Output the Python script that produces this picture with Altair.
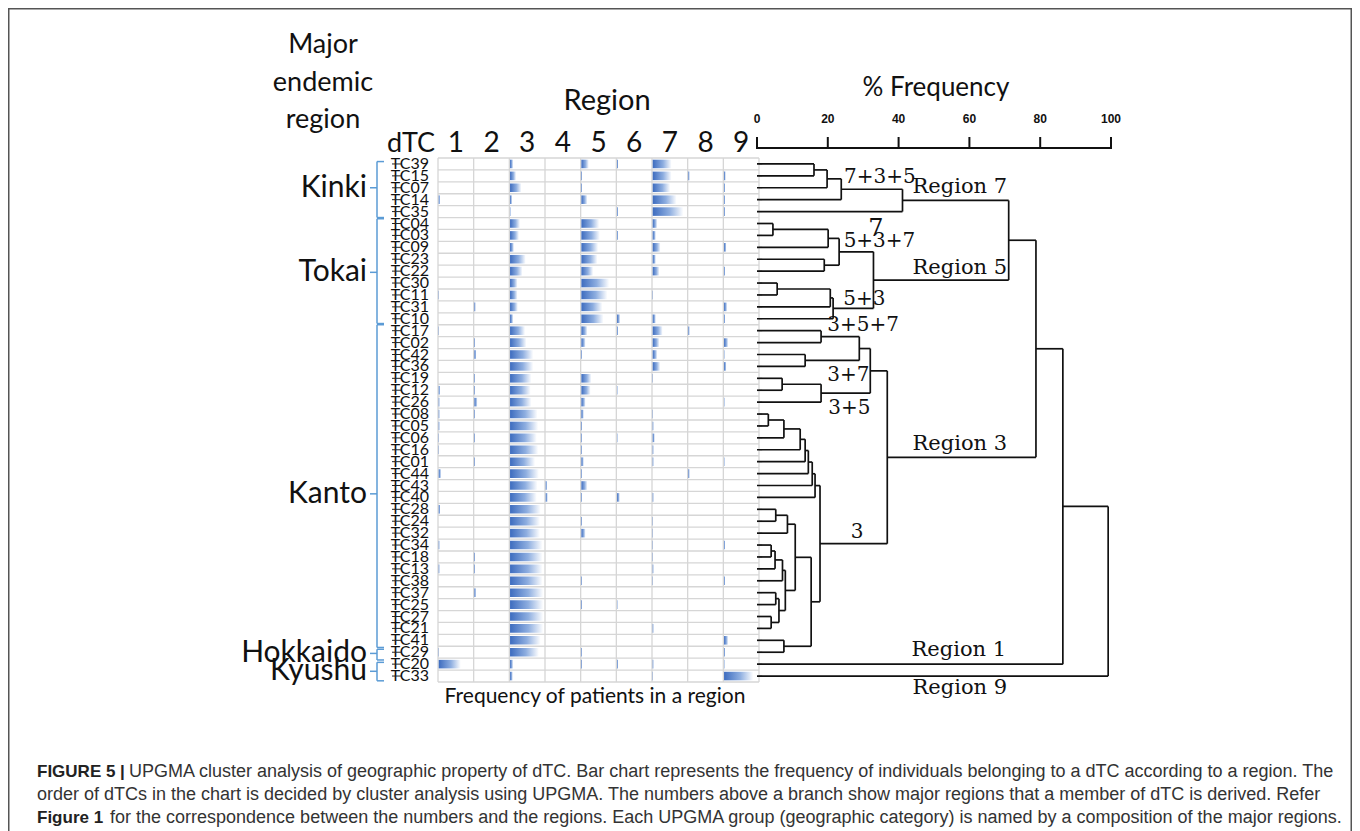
import altair as alt
import pandas as pd

# ---------------- data ----------------
dtc = ["TC39", "TC15", "TC07", "TC14", "TC35", "TC04", "TC03", "TC09", "TC23", "TC22",
       "TC30", "TC11", "TC31", "TC10", "TC17", "TC02", "TC42", "TC36", "TC19", "TC12",
       "TC26", "TC08", "TC05", "TC06", "TC16", "TC01", "TC44", "TC43", "TC40", "TC28",
       "TC24", "TC32", "TC34", "TC18", "TC13", "TC38", "TC37", "TC25", "TC27", "TC21",
       "TC41", "TC29", "TC20", "TC33"]

# frequency (% of patients of the dTC) in each region 1..9, same order as dtc
region1 = [0, 0, 0, 4, 0, 0, 0, 0, 0, 0, 0, 2, 0, 0, 2, 0, 0, 0, 0, 4, 3, 3, 3, 2, 2, 0,
           7, 0, 0, 5, 0, 0, 3, 0, 3, 0, 0, 0, 0, 0, 0, 2, 62, 0]
region2 = [0, 0, 0, 0, 0, 0, 0, 0, 0, 0, 0, 0, 4, 0, 0, 2, 6, 0, 2, 2, 9, 2, 0, 2, 0, 2,
           0, 0, 0, 0, 0, 0, 0, 3, 2, 0, 5, 0, 0, 0, 0, 0, 0, 0]
region3 = [9, 17, 32, 6, 2, 28, 25, 11, 44, 35, 21, 21, 22, 9, 42, 46, 65, 65, 60, 58, 60,
           77, 79, 75, 79, 70, 81, 77, 75, 86, 84, 84, 91, 91, 91, 91, 93, 93, 93, 93,
           86, 81, 9, 8]
region4 = [0, 0, 0, 0, 0, 0, 0, 0, 0, 0, 0, 0, 0, 0, 0, 0, 0, 0, 0, 0, 0, 0, 0, 0, 0, 0,
           0, 4, 6, 0, 0, 0, 0, 0, 0, 0, 0, 0, 0, 0, 0, 0, 0, 0]
region5 = [21, 3, 3, 17, 0, 50, 52, 47, 45, 33, 78, 73, 59, 62, 17, 12, 2, 0, 28, 26, 12,
           7, 3, 2, 2, 7, 2, 17, 2, 0, 3, 12, 0, 0, 0, 2, 0, 3, 0, 0, 0, 2, 3, 0]
region6 = [4, 0, 0, 0, 3, 0, 3, 0, 0, 0, 0, 0, 0, 9, 3, 0, 0, 0, 0, 2, 0, 0, 0, 2, 0, 0,
           0, 0, 8, 0, 0, 0, 0, 0, 0, 0, 0, 2, 0, 0, 0, 0, 3, 0]
region7 = [53, 53, 49, 67, 86, 13, 9, 22, 9, 19, 0, 2, 0, 9, 28, 19, 13, 21, 2, 0, 0, 2,
           3, 6, 3, 3, 0, 0, 3, 0, 2, 2, 2, 2, 3, 2, 0, 0, 0, 3, 0, 0, 3, 2]
region8 = [0, 4, 0, 0, 0, 0, 0, 0, 0, 0, 0, 0, 0, 0, 4, 0, 0, 0, 0, 0, 0, 0, 0, 0, 0, 0,
           4, 0, 0, 0, 0, 0, 0, 0, 0, 0, 0, 0, 0, 0, 0, 0, 0, 0]
region9 = [0, 5, 3, 3, 3, 0, 0, 7, 0, 3, 0, 0, 9, 3, 0, 12, 2, 7, 0, 0, 2, 0, 0, 0, 0, 2,
           0, 0, 0, 0, 0, 0, 3, 0, 0, 3, 0, 0, 0, 0, 12, 3, 2, 82]
region_numbers = [1, 2, 3, 4, 5, 6, 7, 8, 9]

# major endemic regions (row spans of the brackets)
groups = ["Kinki", "Tokai", "Kanto", "Hokkaido", "Kyushu"]
group_top = [0.3, 5.1, 14.0, 41.25, 42.35]
group_bottom = [5.0, 13.9, 41.1, 42.15, 43.9]
group_mid = [2.5, 9.6, 28.2, 41.6, 43.1]

# UPGMA merges: (node, left child, right child, height in % frequency)
merges = [
    ("K1", 0, 1, 16.1), ("K2", "K1", 2, 19.8), ("K3", "K2", 3, 23.8), ("K4", "K3", 4, 41.1),
    ("D", 5, 6, 4.5), ("E", "D", 7, 20.1), ("F", 8, 9, 19.0), ("G", "E", "F", 23.2),
    ("A", 10, 11, 5.7), ("B", "A", 12, 20.7), ("C", "B", 13, 21.5), ("H", "G", "C", 32.9),
    ("I", "K4", "H", 71.1),
    ("J1", 14, 15, 18.1), ("J2", 16, 17, 13.6), ("J3", "J1", "J2", 28.9),
    ("J4", 18, 19, 7.1), ("J5", "J4", 20, 18.1), ("J6", "J3", "J5", 32.0),
    ("a1", 21, 22, 3.2), ("a2", "a1", 23, 7.6), ("a3", "a2", 24, 12.2), ("a4", "a3", 25, 13.6),
    ("a5", "a4", 26, 14.5), ("a6", "a5", 27, 15.6), ("a7", "a6", 28, 16.4),
    ("b1", 29, 30, 5.3), ("b2", "b1", 31, 8.6), ("b3", 32, 33, 4.0), ("b4", "b3", 34, 5.1),
    ("b5", "b4", 35, 7.2), ("b6", 36, 37, 5.3), ("b7", 38, 39, 4.0), ("b8", "b6", "b7", 6.2),
    ("b9", "b5", "b8", 8.0), ("b10", "b2", "b9", 10.8), ("b11", 40, 41, 7.6),
    ("b12", "b10", "b11", 15.3), ("c3", "a7", "b12", 17.8),
    ("KR", "J6", "c3", 36.8), ("Y", "I", "KR", 78.8), ("X", "Y", 42, 86.4), ("R", "X", 43, 99.2),
]

dendro_labels = ["7+3+5", "Region 7", "7", "5+3+7", "Region 5", "5+3", "3+5+7", "3+7",
                 "3+5", "Region 3", "3", "Region 1", "Region 9"]
dendro_label_x = [34.7, 57.3, 33.6, 34.6, 57.3, 30.3, 30.0, 25.8, 26.1, 57.3, 28.3, 57.0, 57.3]
dendro_label_row = [1.6, 2.45, 6.0, 7.0, 9.2, 11.8, 14.0, 18.2, 21.0, 24.0, 31.4, 41.3, 44.5]
dendro_label_size = [20, 21, 24, 20, 21, 20, 20, 20, 20, 21, 20, 21, 21]
freq_ticks = [0, 20, 40, 60, 80, 100]

caption_bold = ["FIGURE 5 |", "", "Figure 1"]
caption_text = [
    "UPGMA cluster analysis of geographic property of dTC. Bar chart represents the frequency of individuals belonging to a dTC according to a region. The",
    "order of dTCs in the chart is decided by cluster analysis using UPGMA. The numbers above a branch show major regions that a member of dTC is derived. Refer",
    "for the correspondence between the numbers and the regions. Each UPGMA group (geographic category) is named by a composition of the major regions.",
]

# ---------------- layout ----------------
W, H = 1344, 823
OFF = 8  # page margin


def P(v):
    return v - OFF


ROW = alt.Scale(domain=[0, 44], range=[P(158), P(682)], nice=False, zero=False)
COL = alt.Scale(domain=[0, 9], range=[P(438), P(759)], nice=False, zero=False)
DEN = alt.Scale(domain=[0, 100], range=[P(757), P(1111)], nice=False, zero=False)

SANS = "Lato"
SERIF = "DejaVu Serif"
one = pd.DataFrame({"k": [0]})


def text(t, x, y, size, font=SANS, weight="normal", align="center", color="#111",
         baseline="middle"):
    return alt.Chart(one).mark_text(
        text=t, font=font, fontSize=size, fontWeight=weight, align=align,
        baseline=baseline, color=color
    ).encode(x=alt.value(P(x)), y=alt.value(P(y)))


layers = []

# outer frame (left, top, right)
frame = pd.DataFrame({"k": [0]})
layers.append(alt.Chart(frame).mark_rule(color="#555", strokeWidth=1.5).encode(
    x=alt.value(0.75), y=alt.value(0), y2=alt.value(H)))
layers.append(alt.Chart(frame).mark_rule(color="#555", strokeWidth=1.5).encode(
    x=alt.value(0), x2=alt.value(W), y=alt.value(0.75)))
layers.append(alt.Chart(frame).mark_rule(color="#555", strokeWidth=1.5).encode(
    x=alt.value(W - 0.75), y=alt.value(0), y2=alt.value(H)))

# ---- bar grid ----
rows_df = pd.DataFrame({"dtc": dtc, "row": list(range(len(dtc)))})
bounds = pd.DataFrame({"b": list(range(len(dtc) + 1))})
cols = pd.DataFrame({"c": list(range(10))})

layers.append(alt.Chart(bounds).mark_rule(color="#d6d6d6", strokeWidth=1.3).encode(
    x=alt.X("x0:Q", scale=COL, axis=None), x2="x1:Q",
    y=alt.Y("b:Q", scale=ROW, axis=None)
).transform_calculate(x0="0", x1="9"))
layers.append(alt.Chart(cols).mark_rule(color="#d6d6d6", strokeWidth=1.3).encode(
    x=alt.X("c:Q", scale=COL, axis=None),
    y=alt.Y("y0:Q", scale=ROW, axis=None), y2="y1:Q"
).transform_calculate(y0="0", y1="44"))
# right-side ticks of the bar panel
layers.append(alt.Chart(rows_df).mark_rule(color="#777", strokeWidth=1).encode(
    x=alt.X("x0:Q", scale=COL, axis=None), x2="x1:Q",
    y=alt.Y("yc:Q", scale=ROW, axis=None)
).transform_calculate(x0="9", x1="9.09", yc="datum.row + 0.5"))

bars = []
regions_vals = [region1, region2, region3, region4, region5, region6, region7, region8, region9]
for r, vals in zip(region_numbers, regions_vals):
    for i, v in enumerate(vals):
        if v > 0:
            bars.append({"dtc": dtc[i], "row": i, "region": r, "pct": v})
bars_df = pd.DataFrame(bars)
grad = alt.Gradient(
    gradient="linear",
    stops=[alt.GradientStop(color="#3d6cbf", offset=0),
           alt.GradientStop(color="#8eaee0", offset=0.55),
           alt.GradientStop(color="#ffffff", offset=1)],
    x1=0, x2=1, y1=0, y2=0)
layers.append(alt.Chart(bars_df).mark_rect(color=grad).encode(
    x=alt.X("x0:Q", scale=COL, axis=None), x2="x1:Q",
    y=alt.Y("y0:Q", scale=ROW, axis=None), y2="y1:Q"
).transform_calculate(
    x0="datum.region - 1 + 0.02",
    x1="datum.region - 1 + 0.02 + datum.pct / 100",
    y0="datum.row + 0.5 - 0.36",
    y1="datum.row + 0.5 + 0.36"))

# dTC labels with their ticks
layers.append(alt.Chart(rows_df).mark_text(font=SANS, fontSize=16, align="right",
                                           baseline="middle", color="#111").encode(
    x=alt.value(P(429)), y=alt.Y("yc:Q", scale=ROW, axis=None), text="dtc:N"
).transform_calculate(yc="datum.row + 0.5"))
layers.append(alt.Chart(rows_df).mark_rule(color="#222", strokeWidth=1).encode(
    x=alt.value(P(392)), x2=alt.value(P(401)), y=alt.Y("yc:Q", scale=ROW, axis=None)
).transform_calculate(yc="datum.row + 0.5"))

# column numbers
num_df = pd.DataFrame({"region": region_numbers})
layers.append(alt.Chart(num_df).mark_text(font=SANS, fontSize=28, baseline="middle",
                                          color="#111").encode(
    x=alt.X("xc:Q", scale=COL, axis=None), y=alt.value(P(144)), text="region:N"
).transform_calculate(xc="datum.region - 0.5"))

# headers
layers.append(text("Major", 323, 45, 27))
layers.append(text("endemic", 323, 83, 27))
layers.append(text("region", 323, 120, 27))
layers.append(text("dTC", 411, 144, 27))
layers.append(text("Region", 607, 101, 29))
layers.append(text("Frequency of patients in a region", 595, 697, 21))

# ---- endemic region brackets ----
grp_df = pd.DataFrame({"g": groups, "top": group_top, "bot": group_bottom, "mid": group_mid})
BR = "#5b9bd5"
layers.append(alt.Chart(grp_df).mark_rule(color=BR, strokeWidth=1.5).encode(
    x=alt.value(P(377)), y=alt.Y("top:Q", scale=ROW, axis=None), y2="bot:Q"))
layers.append(alt.Chart(grp_df).mark_rule(color=BR, strokeWidth=1.5).encode(
    x=alt.value(P(377)), x2=alt.value(P(384)), y=alt.Y("top:Q", scale=ROW, axis=None)))
layers.append(alt.Chart(grp_df).mark_rule(color=BR, strokeWidth=1.5).encode(
    x=alt.value(P(377)), x2=alt.value(P(384)), y=alt.Y("bot:Q", scale=ROW, axis=None)))
layers.append(alt.Chart(grp_df).mark_rule(color=BR, strokeWidth=1.5).encode(
    x=alt.value(P(370)), x2=alt.value(P(377)), y=alt.Y("mid:Q", scale=ROW, axis=None)))
layers.append(alt.Chart(grp_df).mark_text(font=SANS, fontSize=30, align="right",
                                          baseline="middle", color="#111").encode(
    x=alt.value(P(367)), y=alt.Y("mid:Q", scale=ROW, axis=None), text="g:N"))

# ---- dendrogram ----
pos = {i: (0.0, i + 0.5) for i in range(len(dtc))}
segs = []
for node, l, r, h in merges:
    hl, yl = pos[l]
    hr, yr = pos[r]
    segs.append({"x": hl, "x2": h, "y": yl, "y2": yl})
    segs.append({"x": hr, "x2": h, "y": yr, "y2": yr})
    segs.append({"x": h, "x2": h, "y": yl, "y2": yr})
    pos[node] = (h, (yl + yr) / 2)
seg_df = pd.DataFrame(segs)
layers.append(alt.Chart(seg_df).mark_rule(color="#111", strokeWidth=1.7).encode(
    x=alt.X("x:Q", scale=DEN, axis=None), x2="x2:Q",
    y=alt.Y("y:Q", scale=ROW, axis=None), y2="y2:Q"))

lab_df = pd.DataFrame({"t": dendro_labels, "x": dendro_label_x, "row": dendro_label_row,
                       "s": dendro_label_size})
layers.append(alt.Chart(lab_df).mark_text(font=SERIF, baseline="middle", color="#111").encode(
    x=alt.X("x:Q", scale=DEN, axis=None), y=alt.Y("row:Q", scale=ROW, axis=None),
    text="t:N", size=alt.Size("s:Q", scale=None, legend=None)))

# % frequency axis
tick_df = pd.DataFrame({"v": freq_ticks})
layers.append(alt.Chart(tick_df).mark_rule(color="#111", strokeWidth=2).encode(
    x=alt.X("a:Q", scale=DEN, axis=None), x2="b:Q", y=alt.value(P(148))
).transform_calculate(a="0", b="100").transform_filter("datum.v == 0"))
layers.append(alt.Chart(tick_df).mark_rule(color="#111", strokeWidth=2).encode(
    x=alt.X("v:Q", scale=DEN, axis=None), y=alt.value(P(137)), y2=alt.value(P(149))))
layers.append(alt.Chart(tick_df).mark_text(font="Liberation Sans", fontSize=12,
                                           fontWeight="bold", baseline="middle",
                                           color="#111").encode(
    x=alt.X("v:Q", scale=DEN, axis=None), y=alt.value(P(119)), text="v:N"))
layers.append(text("% Frequency", 936, 88, 26))

# ---- caption ----
cap_y = [772, 795, 818]
cap_x = [129, 37, 110]
CAPF = "Liberation Sans"
for b, t, y, x in zip(caption_bold, caption_text, cap_y, cap_x):
    if b:
        layers.append(text(b, 37, y, 17, font=CAPF, weight="bold", align="left", color="#222"))
    layers.append(text(t, x, y, 18, font=CAPF, align="left", color="#333"))

chart = alt.layer(*layers).resolve_scale(x="independent", y="independent").properties(
    width=W, height=H, padding=0, autosize=alt.AutoSizeParams(type="none")
).configure_view(stroke=None)

chart.save("out.html", embed_options={"renderer": "svg", "actions": False})
